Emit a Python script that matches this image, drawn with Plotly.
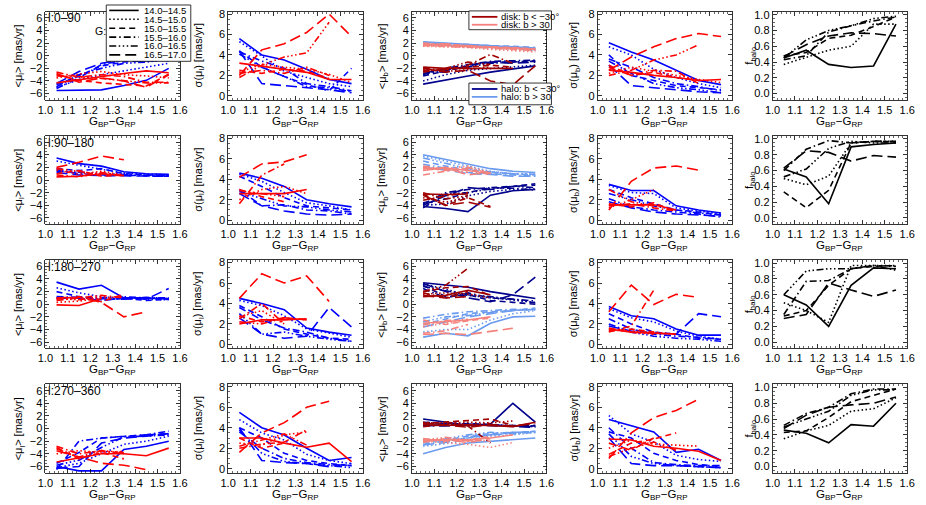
import plotly.graph_objects as go

# ---------------- data ----------------
X = [1.05, 1.15, 1.25, 1.35, 1.45, 1.55]
MAG_BINS = ["14.0–14.5", "14.5–15.0", "15.0–15.5", "15.5–16.0", "16.0–16.5", "16.5–17.0"]
REGIONS = ["l:0–90", "l:90–180", "l:180–270", "l:270–360"]
N = None

# ---- row 1 : l 0-90 ----
R1_MUL_HALO = [[-5.5, -5.4, -5.4, -4.7, -3.9, -2.0], [-5.0, -3.8, -3.0, -2.4, -1.8, -1.2],
               [-4.6, -3.2, -1.6, -1.0, -0.8, -0.7], [-5.2, -3.5, -1.4, -0.7, -0.6, -0.8],
               [-4.9, -3.0, -2.0, -1.2, -1.0, -0.6], [-4.4, -2.5, -1.2, -0.6, -0.9, -0.5]]
R1_MUL_DISK = [[-4.3, -3.8, -3.2, -2.8, -2.4, -2.7], [-3.5, -2.9, -2.5, -3.0, -3.2, -3.5],
               [-3.0, -3.9, -4.3, -4.5, -4.8, -2.9], [-2.6, -3.4, -3.0, -3.3, -4.2, -4.2],
               [-3.2, -3.3, -3.6, -4.0, -4.3, -4.3], [-2.8, -4.2, -3.5, -4.0, -5.0, -3.0]]
R1_SIGL_HALO = [[5.6, 4.0, 3.5, 2.6, 1.6, 1.2], [5.3, 3.9, 2.4, 1.8, 1.2, 0.9],
                [4.4, 2.8, 1.9, 1.1, 0.5, 2.7], [4.3, 3.4, 2.7, 1.2, 0.9, 0.5],
                [4.1, 2.8, 1.9, 0.9, 0.8, 0.4], [4.4, 1.2, 1.0, 0.8, 0.6, 0.3]]
R1_SIGL_DISK = [[3.2, 2.9, 2.6, 2.3, 1.6, 1.6], [2.3, 3.1, 2.8, 2.6, 2.1, 1.3],
                [2.5, 2.2, 2.6, 2.4, 1.7, N], [2.2, 2.5, 2.2, 2.8, 2.0, N],
                [1.8, 3.0, 3.8, 4.2, 7.2, N], [2.0, 4.5, 5.1, 6.2, 8.0, 5.8]]
R1_MUB_HALO_S = [[-4.5, -3.8, -3.2, -2.6, -2.1, -1.6], [-4.0, -3.0, -2.3, -2.0, -1.8, -1.5],
                 [-3.2, -2.4, -1.6, -1.0, -1.0, -0.8], [-3.0, -2.0, -1.4, -0.9, -0.8, -0.7],
                 [-2.8, -2.2, -1.8, -1.2, -1.0, -0.9], [-2.5, -2.6, -1.5, -1.0, -1.2, -1.0]]
R1_MUB_HALO_N = [[2.2, 2.0, 1.8, 1.6, 1.4, 1.2], [1.9, 1.7, 1.5, 1.2, 1.0, 0.8],
                 [2.1, 1.9, 1.7, 1.6, 1.5, 1.3], [1.7, 1.6, 1.5, 1.3, 1.1, 0.9],
                 [2.0, 1.8, 1.6, 1.4, 1.2, 1.0], [1.8, 1.7, 1.6, 1.5, 1.3, 1.1]]
R1_MUB_DISK_S = [[-1.8, -2.0, -2.0, -2.0, -2.0, N], [-2.2, -2.5, -2.2, -1.8, N, N],
                 [-2.4, -2.2, -1.8, -1.5, -1.8, N], [-2.0, -2.3, -1.5, 0.2, -1.2, N],
                 [-2.6, -2.0, -1.0, -1.4, N, N], [-2.0, -2.6, -2.3, -4.0, -4.6, -1.6]]
R1_MUB_DISK_N = [[1.7, 1.6, 1.5, 1.3, 1.2, 1.0], [1.5, 1.4, 1.3, 1.0, 0.8, 0.6],
                 [1.9, 1.7, 1.6, 1.4, 1.3, 1.1], [1.6, 1.5, 1.4, 1.2, 1.0, 0.8],
                 [2.0, 1.8, 1.6, 1.5, 1.2, 1.0], [1.8, 1.9, 1.5, 1.3, 1.1, 0.9]]
R1_SIGB_HALO = [[5.2, 4.3, 3.5, 2.5, 1.5, 1.1], [4.8, 4.0, 2.6, 1.8, 1.2, 0.8],
                [4.0, 2.0, 1.5, 1.0, 0.8, 0.6], [3.6, 2.8, 1.8, 1.2, 0.9, 0.5],
                [3.4, 2.2, 1.2, 0.8, 0.6, 0.3], [3.0, 1.0, 0.8, 0.6, 0.4, 0.3]]
R1_SIGB_DISK = [[2.5, 2.3, 2.0, 1.8, 1.5, 1.6], [2.2, 2.8, 2.4, 2.0, 1.6, 1.3],
                [3.0, 2.0, 2.3, 1.8, 1.5, N], [2.8, 2.0, 2.5, 2.4, 1.2, N],
                [2.0, 2.5, 3.5, 4.0, 5.0, N], [2.5, 3.8, 4.8, 5.6, 6.1, 5.8]]
R1_FHALO = [[0.45, 0.55, 0.37, 0.33, 0.35, 0.88], [0.37, 0.46, 0.55, 0.60, 0.88, 0.88],
            [0.48, 0.52, 0.70, 0.74, 0.85, 0.97], [0.43, 0.48, 0.78, 0.86, 0.92, 0.97],
            [0.45, 0.68, 0.80, 0.86, 0.95, 0.98], [0.47, 0.62, 0.73, 0.77, 0.76, 0.73]]

# ---- row 2 : l 90-180 ----
R2_MUL_HALO = [[3.5, 2.6, 2.2, 1.3, 1.0, 0.9], [3.0, 2.3, 1.7, 1.1, 0.9, 0.8],
               [1.8, 1.5, 1.8, 1.0, 0.8, 0.7], [1.6, 1.0, 0.8, 0.7, 0.7, 0.7],
               [1.4, 1.2, 1.0, 0.8, 0.7, 0.6], [1.2, 0.8, 0.7, 0.7, 0.6, 0.6]]
R2_MUL_DISK = [[0.5, 0.6, 1.0, 0.7, N, N], [1.6, 0.9, 1.4, 0.8, N, N],
               [1.0, 1.5, 0.6, 0.8, N, N], [0.8, 0.5, 1.2, 0.6, N, N],
               [1.8, 1.4, 0.9, N, N, N], [2.0, 2.8, 3.8, 3.2, N, N]]
R2_SIGL_HALO = [[4.6, 4.1, 3.3, 2.0, 1.6, 1.3], [4.5, 3.8, 2.7, 1.7, 1.4, 1.0],
                [4.3, 3.3, 2.2, 1.4, 1.2, 1.0], [3.0, 1.4, 1.5, 1.0, 0.9, 0.6],
                [2.8, 2.1, 1.4, 1.3, 1.0, 0.8], [2.6, 1.4, 0.9, 0.6, 0.5, 0.6]]
R2_SIGL_DISK = [[2.6, 2.6, 2.6, 3.0, N, N], [2.0, 3.0, 3.3, 2.6, N, N],
                [3.0, 2.3, 1.8, N, N, N], [1.6, 4.4, 5.5, N, N, N],
                [2.9, 2.6, 2.3, N, N, N], [4.2, 5.5, 5.7, 6.4, N, N]]
R2_MUB_HALO_S = [[-4.2, -4.5, -5.0, -2.4, -1.7, -1.5], [-4.0, -3.8, -2.5, -1.8, -1.5, -1.4],
                 [-3.6, -3.0, -2.0, -1.2, -1.0, -0.6], [-3.8, -2.0, -1.5, -1.2, -1.3, -1.6],
                 [-4.4, -2.2, -2.0, -1.4, -1.0, -1.2], [-4.0, -2.5, -1.2, -1.5, -1.0, -0.8]]
R2_MUB_HALO_N = [[4.0, 3.3, 2.6, 1.8, 1.4, 1.2], [3.8, 3.0, 2.2, 1.4, 1.0, 0.9],
                 [3.0, 2.2, 1.6, 1.2, 1.0, 0.8], [2.5, 1.8, 1.2, 1.0, 0.8, 0.6],
                 [3.5, 2.6, 1.8, 1.3, 1.0, 0.9], [2.0, 1.6, 1.0, 0.9, 0.6, 0.6]]
R2_MUB_DISK_S = [[-2.2, -2.3, -2.2, N, N, N], [-2.8, -3.5, -2.8, N, N, N],
                 [-2.2, -4.0, -2.8, -4.2, N, N], [-3.2, -2.5, -2.0, N, N, N],
                 [-2.0, -3.0, -2.5, N, N, N], [-2.4, -4.0, -3.5, -4.3, N, N]]
R2_MUB_DISK_N = [[1.8, 1.9, 1.5, 1.0, N, N], [1.6, 1.8, 2.2, 1.2, N, N],
                 [2.0, 1.5, 1.8, 0.8, N, N], [0.8, 1.4, 2.0, 1.0, N, N],
                 [2.2, 1.7, 1.2, N, N, N], [1.5, 2.0, 0.8, 1.2, N, N]]
R2_SIGB_HALO = [[3.5, 2.9, 2.9, 1.4, 1.0, 0.7], [3.4, 2.7, 2.6, 1.2, 0.9, 0.6],
                [3.0, 2.2, 1.6, 1.0, 0.8, 0.5], [2.1, 1.3, 1.0, 0.8, 0.6, 0.3],
                [2.6, 2.0, 1.4, 1.0, 0.7, 0.5], [1.8, 1.2, 0.8, 0.6, 0.5, 0.4]]
R2_SIGB_DISK = [[1.5, 1.5, 1.5, 1.0, N, N], [1.2, 2.0, 3.0, N, N, N],
                [1.6, 1.3, 1.7, 0.8, N, N], [1.4, 1.6, 1.2, 0.9, N, N],
                [3.0, 1.8, 1.4, N, N, N], [1.0, 3.8, 5.1, 5.3, 4.9, N]]
R2_FHALO = [[0.62, 0.52, 0.18, 0.90, 0.93, 0.95], [0.50, 0.42, 0.53, 0.95, 0.97, 0.97],
            [0.33, 0.13, 0.35, 0.95, 0.97, 0.96], [0.60, 0.87, 0.98, 0.95, 0.97, 0.97],
            [0.52, 0.62, 0.88, 0.97, 0.95, 0.95], [0.63, 0.85, 0.83, 0.72, 0.79, 0.77]]

# ---- row 3 : l 180-270 ----
R3_MUL_HALO = [[3.5, 2.4, 3.0, 1.0, 1.0, 0.8], [2.6, 1.8, 1.2, 0.9, 0.8, 0.7],
               [2.0, 1.2, 0.7, 0.9, 0.6, 0.8], [1.2, 1.1, 1.0, 1.2, 1.0, 1.0],
               [1.0, 0.8, 0.9, 0.8, 1.1, 0.9], [0.9, 1.0, 0.6, 1.0, 0.8, 2.5]]
R3_MUL_DISK = [[-0.1, -0.2, 0.9, N, N, N], [0.3, 0.5, 1.0, 1.2, N, N],
               [0.8, 1.2, 0.4, 1.6, N, N], [0.6, 1.0, 1.4, 1.0, N, N],
               [0.9, 0.7, 1.2, N, N, N], [1.0, 1.1, 0.3, -2.0, -1.2, N]]
R3_SIGL_HALO = [[4.5, 4.0, 3.4, 1.6, 1.2, 0.9], [4.3, 3.8, 2.8, 1.5, 1.1, 0.7],
                [3.8, 2.7, 1.5, 1.0, 0.6, 0.5], [3.6, 2.4, 1.6, 1.2, 0.6, 0.3],
                [3.0, 1.0, 1.2, 0.8, 0.5, 0.3], [2.6, 1.0, 0.6, 0.8, 3.6, 1.7]]
R3_SIGL_DISK = [[2.0, 2.4, 2.4, 2.5, N, N], [2.7, 3.3, 2.0, N, N, N],
                [2.8, 2.2, 2.6, 2.4, N, N], [2.5, 4.0, 2.0, N, N, N],
                [2.2, 2.0, 2.6, 2.4, N, N], [4.5, 6.9, 6.0, 6.7, 4.2, N]]
R3_MUB_HALO_S = [[3.4, 3.0, 2.7, 2.0, 1.5, 0.9], [3.2, 2.4, 1.4, 1.0, 0.6, 0.3],
                 [3.0, 1.2, 1.5, 0.6, 0.3, 0.0], [2.5, 1.0, 1.8, 1.0, 0.8, 0.5],
                 [2.8, 2.2, 1.5, 1.2, 0.8, 0.2], [3.3, 2.0, 1.0, 0.4, 1.5, 4.3]]
R3_MUB_HALO_N = [[-5.2, -4.6, -5.0, -3.0, -2.0, -1.9], [-4.4, -4.0, -4.0, -2.5, -1.5, -1.0],
                 [-3.2, -2.3, -1.5, -1.2, -1.0, -0.6], [-2.2, -1.6, -1.2, -1.0, -0.8, -0.9],
                 [-2.8, -2.0, -1.8, -1.3, -1.0, -0.8], [-3.6, -2.8, -2.0, -1.5, -1.0, -0.8]]
R3_MUB_DISK_S = [[1.2, 1.4, 2.2, 1.5, N, N], [1.6, 1.8, 1.6, 1.0, N, N],
                 [2.0, 2.6, 2.8, 1.4, N, N], [1.8, 1.0, 2.0, N, N, N],
                 [2.0, 3.0, 5.7, N, N, N], [1.4, 1.0, 1.2, N, N, N]]
R3_MUB_DISK_N = [[-3.0, -2.8, -2.5, -2.0, N, N], [-3.6, -3.0, -2.6, N, N, N],
                 [-2.5, -3.2, -2.6, -2.2, N, N], [-4.6, -4.2, -3.2, N, N, N],
                 [-3.3, -2.6, -2.4, N, N, N], [-4.8, -4.6, -4.8, -4.3, -3.8, N]]
R3_SIGB_HALO = [[3.7, 2.8, 2.5, 1.5, 0.9, 0.9], [3.5, 2.6, 2.2, 1.3, 0.8, 0.5],
                [3.0, 2.0, 1.2, 1.0, 0.6, 0.5], [2.5, 1.5, 1.0, 0.8, 0.7, 0.5],
                [2.0, 1.2, 0.8, 0.6, 0.5, 0.3], [1.8, 1.3, 1.1, 1.0, 3.0, 2.7]]
R3_SIGB_DISK = [[1.5, 1.2, 1.1, 1.0, N, N], [1.4, 1.3, 1.2, 1.0, N, N],
                [1.3, 1.5, 1.2, N, N, N], [1.2, 1.8, 5.3, N, N, N],
                [1.6, 1.2, 1.0, N, N, N], [3.2, 5.8, 3.9, 4.9, 4.6, N]]
R3_FHALO = [[0.60, 0.47, 0.20, 0.72, 0.94, 0.93], [0.50, 0.40, 0.25, 0.97, 0.97, 0.97],
            [0.33, 0.40, 0.72, 0.93, 0.96, 0.97], [0.35, 0.77, 0.78, 0.93, 0.97, 0.96],
            [0.60, 0.90, 0.93, 0.93, 0.97, 0.91], [0.30, 0.35, 0.75, 0.66, 0.58, 0.66]]

# ---- row 4 : l 270-360 ----
R4_MUL_HALO = [[-6.0, -6.7, -6.7, -3.3, -2.8, -2.0], [-6.2, -5.5, -4.0, -2.5, -2.0, -1.2],
               [-5.5, -3.8, -1.5, -1.2, -1.0, -0.8], [-6.5, -2.0, -1.5, -1.3, -1.0, -0.4],
               [-5.8, -5.0, -3.0, -1.3, -1.2, -1.0], [-6.3, -6.0, -2.3, -1.5, -1.2, -0.8]]
R4_MUL_DISK = [[-5.3, -4.6, -4.0, -4.0, -4.3, -3.1], [-4.0, -3.5, -3.8, -3.6, N, N],
               [-3.0, -4.8, -3.8, -4.8, N, N], [-2.8, -4.0, -3.5, -4.0, N, N],
               [-3.2, -4.5, -3.5, -3.8, N, N], [-3.5, -4.5, -5.5, -5.8, -6.5, N]]
R4_SIGL_HALO = [[5.5, 4.0, 3.3, 2.0, 0.8, 1.1], [4.8, 3.5, 2.8, 1.4, 0.8, 0.5],
                [4.0, 3.0, 1.5, 0.8, 0.5, 0.3], [3.6, 2.0, 1.0, 0.6, 0.4, 0.3],
                [3.8, 1.5, 0.7, 0.5, 0.3, 0.1], [4.0, 0.8, 0.6, 0.5, 0.2, 0.5]]
R4_SIGL_DISK = [[3.0, 3.0, 2.5, 2.1, 2.5, 0.7], [2.5, 2.3, 3.3, 3.6, N, N],
                [3.0, 2.0, 2.5, N, N, N], [2.0, 2.4, 2.6, 3.8, N, N],
                [2.2, 2.8, 3.4, 2.3, N, N], [1.6, 3.5, 4.5, 6.0, 6.6, N]]
R4_MUB_HALO_S = [[1.5, 1.0, 0.5, 0.7, 4.0, 1.0], [0.8, 0.7, 0.6, 0.5, 0.4, 0.3],
                 [0.4, 0.6, 0.8, 0.6, 0.4, 0.5], [0.6, 0.8, 0.5, 0.6, 0.4, 0.3],
                 [1.0, 0.8, 0.7, 0.6, 0.5, 0.4], [0.5, 0.4, 0.6, 0.5, 0.3, 0.2]]
R4_MUB_HALO_N = [[-4.0, -3.0, -2.3, -2.0, -1.8, -1.5], [-2.8, -2.4, -1.8, -1.2, -1.0, -0.6],
                 [-2.2, -1.8, -1.2, -0.8, -0.6, -0.5], [-2.5, -2.0, -1.5, -1.0, -0.8, -0.6],
                 [-2.0, -1.6, -1.0, -0.6, -0.8, -0.4], [-2.6, -2.2, -1.4, -1.0, -0.6, -0.5]]
R4_MUB_DISK_S = [[0.6, 0.5, 0.6, 0.5, 0.3, 1.0], [1.0, 0.8, 1.0, 0.9, 1.2, N],
                 [0.8, 1.0, 1.3, 1.5, 0.5, N], [0.3, 0.6, 0.4, -2.3, N, N],
                 [0.7, 1.0, 0.6, 0.8, N, N], [0.9, 0.6, 0.2, 0.6, 0.4, 0.8]]
R4_MUB_DISK_N = [[-1.8, -1.8, -1.8, -1.5, -1.0, N], [-2.0, -2.2, -2.5, -3.0, -2.2, N],
                 [-1.6, -2.0, -1.8, -1.4, N, N], [-2.2, -1.6, -2.0, -1.2, N, N],
                 [-1.8, -1.4, -1.8, -2.0, N, N], [-2.0, -1.8, -2.2, -1.6, N, N]]
R4_SIGB_HALO = [[4.8, 4.2, 3.6, 1.6, 1.9, 0.8], [5.2, 3.4, 2.6, 1.3, 0.9, 0.7],
                [3.6, 3.0, 1.5, 0.8, 0.4, 0.2], [4.0, 2.0, 0.6, 0.4, 0.3, 0.3],
                [3.4, 1.2, 0.5, 0.3, 0.2, 0.1], [3.0, 0.5, 0.3, 0.3, 0.2, 0.1]]
R4_SIGB_DISK = [[2.9, 2.8, 2.2, 2.0, 1.7, 0.8], [2.0, 2.8, 2.4, 2.3, 2.2, N],
                [1.4, 2.5, 2.9, 3.5, N, N], [2.5, 1.8, 3.0, N, N, N],
                [1.2, 2.0, 2.6, 1.8, N, N], [1.0, 3.5, 5.0, 5.7, 6.8, N]]
R4_FHALO = [[0.46, 0.42, 0.30, 0.53, 0.51, 0.80], [0.35, 0.45, 0.52, 0.70, 0.73, 0.87],
            [0.43, 0.45, 0.62, 0.82, 0.90, 0.98], [0.52, 0.67, 0.75, 0.92, 0.98, 0.98],
            [0.50, 0.60, 0.70, 0.90, 0.97, 0.97], [0.48, 0.65, 0.75, 0.78, 0.80, 0.88]]

# ---------------- styling ----------------
RED, BLUE = "#ff0000", "#0000ff"
DRED, LRED, DBLUE, LBLUE = "#a00000", "#f4837d", "#00008c", "#6b9bef"
BLACK = "#000000"
DASHES = ["solid", "1.5px,2.5px", "6px,4px", "7px,3px,1.5px,3px",
          "7px,2.5px,1.5px,2.5px,1.5px,2.5px,1.5px,2.5px", "11px,5px"]
LW = 1.6
FONT = "Liberation Sans"
TICKFONT = 11

W, H = 926, 505
COL_LEFT = [38, 224, 411, 600, 778]
PW = 137
ROW_TOP = [7.6, 133.4, 259.1, 384.9]
PH = 89.5


def fx(x):
    return x / W


def fy(y):
    return 1 - y / H


ROWS = [
    [[(R1_MUL_HALO, BLUE), (R1_MUL_DISK, RED)],
     [(R1_SIGL_HALO, BLUE), (R1_SIGL_DISK, RED)],
     [(R1_MUB_HALO_S, DBLUE), (R1_MUB_HALO_N, LBLUE), (R1_MUB_DISK_S, DRED), (R1_MUB_DISK_N, LRED)],
     [(R1_SIGB_HALO, BLUE), (R1_SIGB_DISK, RED)],
     [(R1_FHALO, BLACK)]],
    [[(R2_MUL_HALO, BLUE), (R2_MUL_DISK, RED)],
     [(R2_SIGL_HALO, BLUE), (R2_SIGL_DISK, RED)],
     [(R2_MUB_HALO_S, DBLUE), (R2_MUB_HALO_N, LBLUE), (R2_MUB_DISK_S, DRED), (R2_MUB_DISK_N, LRED)],
     [(R2_SIGB_HALO, BLUE), (R2_SIGB_DISK, RED)],
     [(R2_FHALO, BLACK)]],
    [[(R3_MUL_HALO, BLUE), (R3_MUL_DISK, RED)],
     [(R3_SIGL_HALO, BLUE), (R3_SIGL_DISK, RED)],
     [(R3_MUB_HALO_S, DBLUE), (R3_MUB_HALO_N, LBLUE), (R3_MUB_DISK_S, DRED), (R3_MUB_DISK_N, LRED)],
     [(R3_SIGB_HALO, BLUE), (R3_SIGB_DISK, RED)],
     [(R3_FHALO, BLACK)]],
    [[(R4_MUL_HALO, BLUE), (R4_MUL_DISK, RED)],
     [(R4_SIGL_HALO, BLUE), (R4_SIGL_DISK, RED)],
     [(R4_MUB_HALO_S, DBLUE), (R4_MUB_HALO_N, LBLUE), (R4_MUB_DISK_S, DRED), (R4_MUB_DISK_N, LRED)],
     [(R4_SIGB_HALO, BLUE), (R4_SIGB_DISK, RED)],
     [(R4_FHALO, BLACK)]],
]

YRANGES = [[-7, 7], [-0.4, 8.25], [-7, 7], [-0.4, 8.25], [-0.08, 1.04]]
YDTICK = [2, 2, 2, 2, 0.2]
YMINOR = [0.5, 0.5, 0.5, 0.5, 0.05]
YFMT = ["d", "d", "d", "d", ".1f"]
YTITLES = ["&lt;μ<sub>l</sub>&gt; [mas/yr]", "σ(μ<sub>l</sub>) [mas/yr]",
           "&lt;μ<sub>b</sub>&gt; [mas/yr]", "σ(μ<sub>b</sub>) [mas/yr]", "f<sub>halo</sub>"]
YTITLE_OFF = [27, 30, 30, 24, 23]

fig = go.Figure()
layout = dict(width=W, height=H, margin=dict(l=0, r=0, t=0, b=0),
              paper_bgcolor="white", plot_bgcolor="white", showlegend=False,
              font=dict(family=FONT, size=12, color="black"))
annotations = []
shapes = []

for r in range(4):
    for c in range(5):
        idx = r * 5 + c + 1
        xs = "" if idx == 1 else str(idx)
        for series, color in ROWS[r][c]:
            for m, vals in enumerate(series):
                fig.add_trace(go.Scatter(
                    x=X, y=vals, mode="lines", xaxis="x" + xs, yaxis="y" + xs,
                    line=dict(color=color, width=LW, dash=DASHES[m]),
                    connectgaps=False, hoverinfo="skip"))
        x0 = COL_LEFT[c]
        y0 = ROW_TOP[r]
        layout["xaxis" + xs] = dict(
            domain=[fx(x0), fx(x0 + PW)], anchor="y" + xs, range=[1.0, 1.6],
            tickmode="linear", tick0=1.0, dtick=0.1, tickformat=".1f",
            ticks="inside", ticklen=4, tickwidth=0.8, tickcolor="black",
            minor=dict(ticks="inside", ticklen=2, dtick=0.02, tickcolor="black", tickwidth=0.6),
            showline=True, linecolor="black", linewidth=0.8, mirror="ticks",
            showgrid=False, zeroline=False, tickfont=dict(size=TICKFONT, family=FONT))
        layout["yaxis" + xs] = dict(
            domain=[fy(y0 + PH), fy(y0)], anchor="x" + xs, range=YRANGES[c],
            tickmode="linear", tick0=0, dtick=YDTICK[c], tickformat=YFMT[c],
            ticks="inside", ticklen=4, tickwidth=0.8, tickcolor="black",
            minor=dict(ticks="inside", ticklen=2, dtick=YMINOR[c], tickcolor="black", tickwidth=0.6),
            showline=True, linecolor="black", linewidth=0.8, mirror="ticks",
            showgrid=False, zeroline=False, tickfont=dict(size=TICKFONT, family=FONT))
        # axis titles
        annotations.append(dict(
            text=YTITLES[c], x=fx(x0 - YTITLE_OFF[c]), y=fy(y0 + PH / 2),
            xref="paper", yref="paper", xanchor="center", yanchor="middle",
            textangle=-90, showarrow=False, font=dict(size=11, family=FONT)))
        annotations.append(dict(
            text="G<sub>BP</sub>−G<sub>RP</sub>", x=fx(x0 + PW / 2), y=fy(y0 + PH + 22),
            xref="paper", yref="paper", xanchor="center", yanchor="middle",
            showarrow=False, font=dict(size=11.5, family=FONT)))
    # region label
    annotations.append(dict(
        text=REGIONS[r], x=fx(COL_LEFT[0] + 1), y=fy(ROW_TOP[r] + 7),
        xref="paper", yref="paper", xanchor="left", yanchor="middle",
        showarrow=False, font=dict(size=12, family=FONT)))

# ---- magnitude legend (panel 1) ----
shapes.append(dict(type="rect", xref="paper", yref="paper",
                   x0=fx(100), x1=fx(186), y0=fy(58), y1=fy(1),
                   line=dict(color="black", width=0.8), fillcolor="white"))
for m, lab in enumerate(MAG_BINS):
    yy = 6.5 + m * 9.0
    shapes.append(dict(type="line", xref="paper", yref="paper",
                       x0=fx(103), x1=fx(133), y0=fy(yy), y1=fy(yy),
                       line=dict(color="black", width=LW, dash=DASHES[m])))
    annotations.append(dict(text=lab, x=fx(137), y=fy(yy), xref="paper", yref="paper",
                            xanchor="left", yanchor="middle", showarrow=False,
                            borderpad=0, font=dict(size=9.5, family=FONT)))
annotations.append(dict(text="G:", x=fx(87), y=fy(27), xref="paper", yref="paper",
                        xanchor="left", yanchor="middle", showarrow=False,
                        font=dict(size=10.5, family=FONT)))

# ---- disk / halo legends (panel 3) ----
LEG3 = [
    (7, 26, [("disk: b &lt; −30°", DRED), ("disk: b &gt; 30", LRED)]),
    (80, 102, [("halo: b &lt; −30°", DBLUE), ("halo: b &gt; 30", LBLUE)]),
]
for top, bot, items in LEG3:
    shapes.append(dict(type="rect", xref="paper", yref="paper",
                       x0=fx(469), x1=fx(553), y0=fy(bot), y1=fy(top),
                       line=dict(color="black", width=0.8), fillcolor="white"))
    for k, (lab, col) in enumerate(items):
        yy = top + 6 + k * 8.0
        shapes.append(dict(type="line", xref="paper", yref="paper",
                           x0=fx(472), x1=fx(498), y0=fy(yy), y1=fy(yy),
                           line=dict(color=col, width=1.8)))
        annotations.append(dict(text=lab, x=fx(501), y=fy(yy), xref="paper", yref="paper",
                                xanchor="left", yanchor="middle", showarrow=False,
                                borderpad=0, font=dict(size=9.5, family=FONT)))

layout["annotations"] = annotations
layout["shapes"] = shapes
fig.update_layout(**layout)
fig.write_html("out.html", config={"displayModeBar": False, "staticPlot": True},
               post_script="document.body.style.margin='0';document.body.style.padding='0';")
